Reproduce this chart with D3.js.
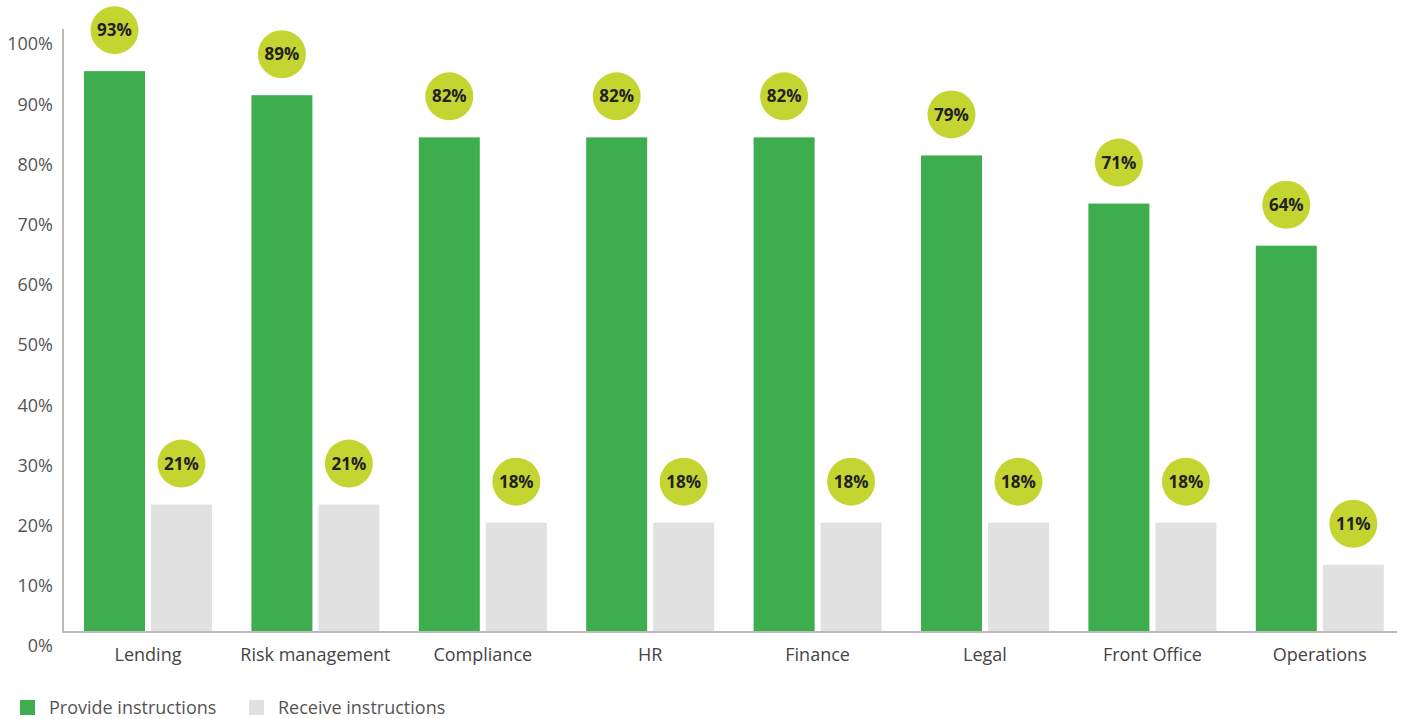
<!DOCTYPE html>
<html>
<head>
<meta charset="utf-8">
<script src="https://cdn.jsdelivr.net/npm/d3@7"></script>
<style>
  body { margin: 0; background: #fff; }
  text { font-family: "Open Sans", sans-serif; }
</style>
</head>
<body>
<script>
var categories = ["Lending", "Risk management", "Compliance", "HR", "Finance", "Legal", "Front Office", "Operations"];
var provideValues = [93, 89, 82, 82, 82, 79, 71, 64];
var receiveValues = [21, 21, 18, 18, 18, 18, 18, 11];
var seriesNames = ["Provide instructions", "Receive instructions"];
var yTicks = [0, 10, 20, 30, 40, 50, 60, 70, 80, 90, 100];

var width = 1407;
var height = 719;

var axisX = 63;
var baseY = 632;
var barWidth = 61;
var barGap = 6;
var bubbleR = 24;
var bubbleOffset = 41;
var step = 167.4;

var green = "#3dad4e";
var grey = "#e0e1e0";
var bubbleColor = "#c4d532";
var axisColor = "#bbbbbb";

var svg = d3.select("body").append("svg")
    .attr("width", width)
    .attr("height", height);

var y = d3.scaleLinear()
    .domain([0, 100])
    .range([631, 29]);

var x = d3.scaleBand()
    .domain(categories)
    .range([84 - 53, 84 - 53 + step * categories.length])
    .paddingInner(0)
    .paddingOuter(0);

// green bar starts 53px into each band
var groupLeft = function(c) { return x(c) + 53; };

// y axis tick labels (sit a bit below their value)
svg.append("g").selectAll("text")
    .data(yTicks)
    .enter()
    .append("text")
    .attr("x", 53)
    .attr("y", function(d) { return y(d) + 15; })
    .attr("dy", "0.35em")
    .attr("text-anchor", "end")
    .attr("font-size", 18)
    .attr("fill", "#555")
    .text(function(d) { return d + "%"; });

var rows = categories.map(function(c, i) {
    return { cat: c, provide: provideValues[i], receive: receiveValues[i] };
});

var groups = svg.selectAll("g.cat")
    .data(rows)
    .enter()
    .append("g")
    .attr("class", "cat")
    .attr("transform", function(d) { return "translate(" + groupLeft(d.cat) + ",0)"; });

var bars = [
    { key: "provide", dx: 0, color: green },
    { key: "receive", dx: barWidth + barGap, color: grey }
];

bars.forEach(function(b) {
    groups.append("rect")
        .attr("x", b.dx)
        .attr("y", function(d) { return y(d[b.key]); })
        .attr("width", barWidth)
        .attr("height", function(d) { return y(0) - y(d[b.key]); })
        .attr("fill", b.color);

    groups.append("circle")
        .attr("cx", b.dx + barWidth / 2)
        .attr("cy", function(d) { return y(d[b.key]) - bubbleOffset; })
        .attr("r", bubbleR)
        .attr("fill", bubbleColor);

    groups.append("text")
        .attr("x", b.dx + barWidth / 2)
        .attr("y", function(d) { return y(d[b.key]) - bubbleOffset; })
        .attr("dy", "0.36em")
        .attr("text-anchor", "middle")
        .attr("font-size", 17)
        .attr("font-weight", "bold")
        .attr("fill", "#222")
        .text(function(d) { return d[b.key] + "%"; });
});

groups.append("text")
    .attr("x", barWidth + barGap / 2)
    .attr("y", 655)
    .attr("dy", "0.35em")
    .attr("text-anchor", "middle")
    .attr("font-size", 18)
    .attr("fill", "#444")
    .text(function(d) { return d.cat; });

// axis lines
svg.append("line")
    .attr("x1", axisX).attr("x2", axisX)
    .attr("y1", 29).attr("y2", baseY + 1)
    .attr("stroke", axisColor)
    .attr("stroke-width", 2);

svg.append("line")
    .attr("x1", axisX - 1).attr("x2", 1397)
    .attr("y1", baseY).attr("y2", baseY)
    .attr("stroke", axisColor)
    .attr("stroke-width", 2);

// legend
var legend = svg.selectAll("g.legend")
    .data(seriesNames)
    .enter()
    .append("g")
    .attr("class", "legend")
    .attr("transform", function(d, i) { return "translate(" + (20 + i * 229) + ",700)"; });

legend.append("rect")
    .attr("width", 15)
    .attr("height", 15)
    .attr("fill", function(d, i) { return i === 0 ? green : grey; });

legend.append("text")
    .attr("x", 29)
    .attr("y", 8)
    .attr("dy", "0.35em")
    .attr("font-size", 18)
    .attr("fill", "#555")
    .text(function(d) { return d; });
</script>
</body>
</html>
